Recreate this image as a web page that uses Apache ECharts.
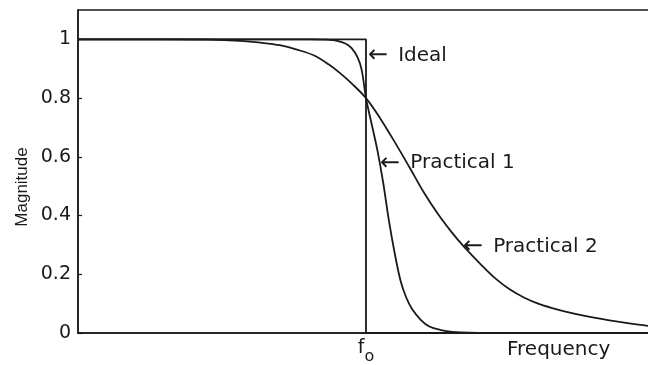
<!DOCTYPE html>
<html>
<head>
<meta charset="utf-8">
<script src="https://cdn.jsdelivr.net/npm/echarts@6/dist/echarts.min.js"></script>
<style>
html,body{margin:0;padding:0;background:#fff;}
#chart{width:648px;height:365px;}
</style>
</head>
<body>
<div id="chart"></div>
<script>
// Normalised frequency (f / fo) and magnitude values
var idealFreq = [0, 1, 1, 2];
var idealMag  = [1, 1, 0, 0];

var p1Freq = [0, 0.5, 0.8, 0.86, 0.9, 0.93, 0.95, 0.97, 0.985, 1.0, 1.02, 1.04, 1.06, 1.08, 1.10, 1.12, 1.14, 1.16, 1.19, 1.22, 1.26, 1.30, 1.36, 1.5, 2.0];
var p1Mag  = [1, 1, 1, 0.999, 0.995, 0.985, 0.97, 0.94, 0.896, 0.80, 0.71, 0.62, 0.51, 0.38, 0.27, 0.178, 0.12, 0.082, 0.045, 0.022, 0.01, 0.004, 0.001, 0, 0];

var p2Freq = [0, 0.3, 0.45, 0.56, 0.64, 0.70, 0.76, 0.82, 0.87, 0.91, 0.95, 1.0, 1.05, 1.10, 1.15, 1.20, 1.25, 1.30, 1.34, 1.40, 1.45, 1.50, 1.55, 1.60, 1.65, 1.70, 1.76, 1.84, 1.92, 2.0];
var p2Mag  = [1, 1, 0.999, 0.995, 0.988, 0.98, 0.965, 0.945, 0.915, 0.885, 0.85, 0.80, 0.73, 0.65, 0.566, 0.48, 0.405, 0.34, 0.294, 0.232, 0.185, 0.148, 0.12, 0.099, 0.084, 0.071, 0.058, 0.044, 0.032, 0.022];

var yTicks = [0, 0.2, 0.4, 0.6, 0.8, 1];
var foTick = [1];

var noteText = ['Ideal', 'Practical 1', 'Practical 2'];
var noteFreq = [1.007, 1.049, 1.337];
var noteMag  = [0.943, 0.578, 0.293];

function pairs(xs, ys) { return xs.map(function (x, i) { return [x, ys[i]]; }); }

var FONT = 'DejaVu Sans';
var INK = '#1a1a1a';

var chart = echarts.init(document.getElementById('chart'));
chart.setOption({
  animation: false,
  backgroundColor: '#fff',
  grid: { left: 78, top: 10, height: 323, width: 576, outerBoundsMode: 'none', containLabel: false, show: true, borderColor: INK, borderWidth: 1.5, backgroundColor: 'transparent' },
  xAxis: {
    type: 'value', min: 0, max: 2,
    axisLine: { show: true, onZero: false, lineStyle: { color: INK, width: 1.5 } },
    axisTick: { show: false },
    splitLine: { show: false },
    axisLabel: {
      customValues: foTick, margin: 6, color: INK, fontFamily: FONT,
      formatter: function () { return '{f|f}{o|o}'; },
      rich: {
        f: { fontSize: 19, fontFamily: FONT, color: INK, verticalAlign: 'top', lineHeight: 26 },
        o: { fontSize: 16, fontFamily: FONT, color: INK, verticalAlign: 'bottom', lineHeight: 26 }
      }
    }
  },
  yAxis: {
    type: 'value', min: 0, max: 1.1,
    axisLine: { show: true, lineStyle: { color: INK, width: 1.5 } },
    axisTick: { show: true, inside: true, length: 4, customValues: yTicks, lineStyle: { color: INK, width: 1.2 } },
    splitLine: { show: false },
    axisLabel: { customValues: yTicks, margin: 7, fontSize: 19, fontFamily: FONT, color: INK }
  },
  graphic: [{
    type: 'text', left: 507, top: 340,
    style: { text: 'Frequency', font: '20px "DejaVu Sans"', fill: INK }
  }, {
    type: 'text', x: 22, y: 187, rotation: Math.PI / 2,
    style: { text: 'Magnitude', font: '17px "Liberation Sans"', fill: INK, align: 'center', verticalAlign: 'middle' }
  }],
  series: [
    { name: 'Ideal', type: 'line', data: pairs(idealFreq, idealMag), showSymbol: false, lineStyle: { color: INK, width: 1.8 }, z: 3 },
    { name: 'Practical 1', type: 'line', data: pairs(p1Freq, p1Mag), showSymbol: false, smooth: 0.35, lineStyle: { color: INK, width: 1.8 } },
    { name: 'Practical 2', type: 'line', data: pairs(p2Freq, p2Mag), showSymbol: false, smooth: 0.35, lineStyle: { color: INK, width: 1.8 } },
    {
      name: 'notes', type: 'scatter', symbolSize: 0, silent: true,
      itemStyle: { opacity: 1 },
      data: noteText.map(function (t, i) { return { value: [noteFreq[i], noteMag[i]], name: t }; }),
      label: {
        show: true, position: 'right', distance: 0, opacity: 1,
        formatter: function (p) { return '{a|\u2190}{t|' + p.name + '}'; },
        rich: {
          a: { fontSize: 24, fontFamily: FONT, color: INK, padding: [0, 10, 0, 0] },
          t: { fontSize: 20, fontFamily: FONT, color: INK }
        }
      }
    }
  ]
});
</script>
</body>
</html>
